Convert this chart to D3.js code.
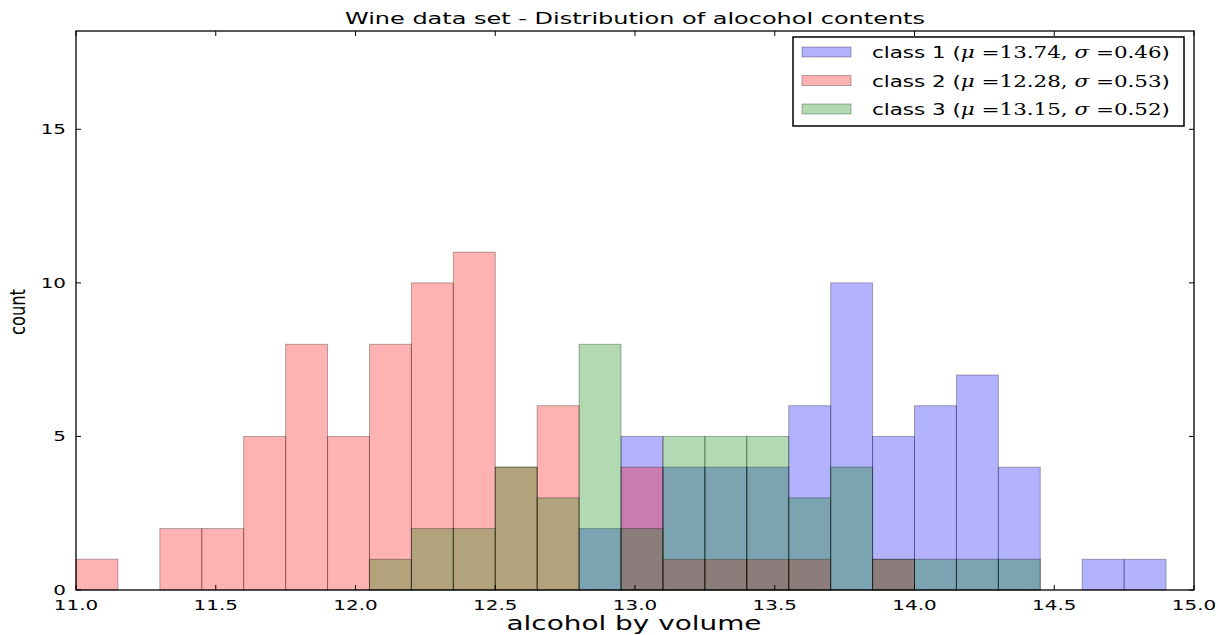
<!DOCTYPE html>
<html>
<head>
<meta charset="utf-8">
<script src="https://cdn.jsdelivr.net/npm/d3@7"></script>
<style>
    body { margin: 0; background: #fff; }
    text { font-family: "DejaVu Sans", sans-serif; fill: #000; }
    .math { font-family: "DejaVu Serif", serif; }
</style>
</head>
<body>
<svg id="chart" width="1218" height="635"></svg>
<script>
"use strict";

// bin edges of the histogram (alcohol by volume)
var binEdges = [11.0, 11.15, 11.3, 11.45, 11.6, 11.75, 11.9, 12.05, 12.2, 12.35,
		12.5, 12.65, 12.8, 12.95, 13.1, 13.25, 13.4, 13.55, 13.7, 13.85,
		14.0, 14.15, 14.3, 14.45, 14.6, 14.75, 14.9],

    class1Counts = [0, 0, 0, 0, 0, 0, 0, 0, 0, 0, 0, 0, 2, 5, 4, 4, 4, 6, 10, 5, 6, 7, 4, 0, 1, 1],
    class2Counts = [1, 0, 2, 2, 5, 8, 5, 8, 10, 11, 4, 6, 0, 4, 1, 1, 1, 1, 0, 1, 0, 0, 0, 0, 0, 0],
    class3Counts = [0, 0, 0, 0, 0, 0, 0, 1, 2, 2, 4, 3, 8, 2, 5, 5, 5, 3, 4, 1, 1, 1, 1, 0, 0, 0],

    classNames = ["class 1", "class 2", "class 3"],
    classMeans = ["13.74", "12.28", "13.15"],
    classStds = ["0.46", "0.53", "0.52"],
    classColours = ["#0000ff", "#ff0000", "#008000"],

    xTicks = [11.0, 11.5, 12.0, 12.5, 13.0, 13.5, 14.0, 14.5, 15.0],
    yTicks = [0, 5, 10, 15],

    plotLeft = 76,
    plotRight = 1194,
    plotTop = 31,
    plotBottom = 590,
    tickLength = 5,
    stretchFactor = 1.42;

var svg = d3.select("#chart"),
    x = d3.scaleLinear().domain([11, 15]).range([plotLeft, plotRight]),
    y = d3.scaleLinear().domain([0, 18.2]).range([plotBottom, plotTop]);

/*
 The reference picture is wider than it is tall, so every text is drawn
 a bit wider than the font would make it.
 */
var stretch = function(selection, k) {
    selection.each(function() {
	var w = this.getComputedTextLength();
	d3.select(this)
	    .attr("textLength", w * k)
	    .attr("lengthAdjust", "spacingAndGlyphs");
    });
},

    fitTo = function(selection, width) {
	selection
	    .attr("textLength", width)
	    .attr("lengthAdjust", "spacingAndGlyphs");
    };

var series = [class1Counts, class2Counts, class3Counts].map(function(counts, i) {
    return counts.map(function(c, k) {
	return { count: c, x0: binEdges[k], x1: binEdges[k + 1], colour: classColours[i] };
    }).filter(function(d) {
	return d.count > 0;
    });
});

var plot = svg.append("g").attr("class", "bars");

plot.selectAll("g.series")
    .data(series)
    .enter().append("g")
    .classed("series", true)
    .selectAll("rect")
    .data(function(d) { return d; })
    .enter().append("rect")
    .attr("x", function(d) { return x(d.x0); })
    .attr("width", function(d) { return x(d.x1) - x(d.x0); })
    .attr("y", function(d) { return y(d.count); })
    .attr("height", function(d) { return y(0) - y(d.count); })
    .attr("fill", function(d) { return d.colour; })
    .attr("fill-opacity", 0.3)
    .attr("stroke", "#000")
    .attr("stroke-opacity", 0.3)
    .attr("stroke-width", 1);

// frame
svg.append("rect")
    .attr("x", plotLeft)
    .attr("y", plotTop)
    .attr("width", plotRight - plotLeft)
    .attr("height", plotBottom - plotTop)
    .attr("fill", "none")
    .attr("stroke", "#000")
    .attr("stroke-width", 1.3);

// ticks point inwards on all four sides
var ticks = svg.append("g").attr("stroke", "#000").attr("stroke-width", 1);

ticks.selectAll("line.xb")
    .data(xTicks)
    .enter().append("line")
    .attr("x1", function(d) { return x(d); })
    .attr("x2", function(d) { return x(d); })
    .attr("y1", plotBottom)
    .attr("y2", plotBottom - tickLength);

ticks.selectAll("line.xt")
    .data(xTicks)
    .enter().append("line")
    .attr("x1", function(d) { return x(d); })
    .attr("x2", function(d) { return x(d); })
    .attr("y1", plotTop)
    .attr("y2", plotTop + tickLength);

ticks.selectAll("line.yl")
    .data(yTicks)
    .enter().append("line")
    .attr("x1", plotLeft)
    .attr("x2", plotLeft + tickLength)
    .attr("y1", function(d) { return y(d); })
    .attr("y2", function(d) { return y(d); });

ticks.selectAll("line.yr")
    .data(yTicks)
    .enter().append("line")
    .attr("x1", plotRight)
    .attr("x2", plotRight - tickLength)
    .attr("y1", function(d) { return y(d); })
    .attr("y2", function(d) { return y(d); });

var xLabels = svg.append("g").selectAll("text")
	.data(xTicks)
	.enter().append("text")
	.attr("x", function(d) { return x(d); })
	.attr("y", plotBottom + 20)
	.attr("text-anchor", "middle")
	.style("font-size", "14px")
	.text(d3.format(".1f"));
stretch(xLabels, stretchFactor);

var yLabels = svg.append("g").selectAll("text")
	.data(yTicks)
	.enter().append("text")
	.attr("x", plotLeft - 10)
	.attr("y", function(d) { return y(d) + 5; })
	.attr("text-anchor", "end")
	.style("font-size", "14px")
	.text(function(d) { return d; });
stretch(yLabels, stretchFactor);

svg.append("text")
    .attr("x", 635)
    .attr("y", 24)
    .attr("text-anchor", "middle")
    .style("font-size", "16px")
    .text("Wine data set - Distribution of alocohol contents")
    .call(fitTo, 580);

svg.append("text")
    .attr("x", 634)
    .attr("y", 630)
    .attr("text-anchor", "middle")
    .style("font-size", "20px")
    .text("alcohol by volume")
    .call(fitTo, 255);

svg.append("text")
    .attr("transform", "translate(25,312) rotate(-90)")
    .attr("text-anchor", "middle")
    .style("font-size", "21px")
    .text("count")
    .call(fitTo, 46);

// legend
var legend = svg.append("g").attr("class", "legend");

legend.append("rect")
    .attr("x", 793)
    .attr("y", 37)
    .attr("width", 391)
    .attr("height", 89)
    .attr("fill", "#fff")
    .attr("stroke", "#000")
    .attr("stroke-width", 1.5);

var rows = legend.selectAll("g.row")
	.data(classNames)
	.enter().append("g")
	.classed("row", true)
	.attr("transform", function(d, i) {
	    return "translate(0," + (52 + i * 28.5) + ")";
	});

rows.append("rect")
    .attr("x", 802)
    .attr("y", -5)
    .attr("width", 49)
    .attr("height", 10)
    .attr("fill", function(d, i) { return classColours[i]; })
    .attr("fill-opacity", 0.3)
    .attr("stroke", "#000")
    .attr("stroke-opacity", 0.3);

var rowText = rows.append("text")
	.attr("x", 872)
	.attr("y", 6)
	.style("font-size", "16px");

rowText.append("tspan").text(function(d) { return d + " ("; });
rowText.append("tspan").classed("math", true).style("font-style", "italic").text("\u03bc");
rowText.append("tspan").classed("math", true).text(function(d, i) { return " =" + classMeans[i] + ", "; });
rowText.append("tspan").classed("math", true).style("font-style", "italic").text("\u03c3");
rowText.append("tspan").classed("math", true).text(function(d, i) { return " =" + classStds[i]; });
rowText.append("tspan").text(")");

rowText.call(fitTo, 298);
</script>
</body>
</html>
